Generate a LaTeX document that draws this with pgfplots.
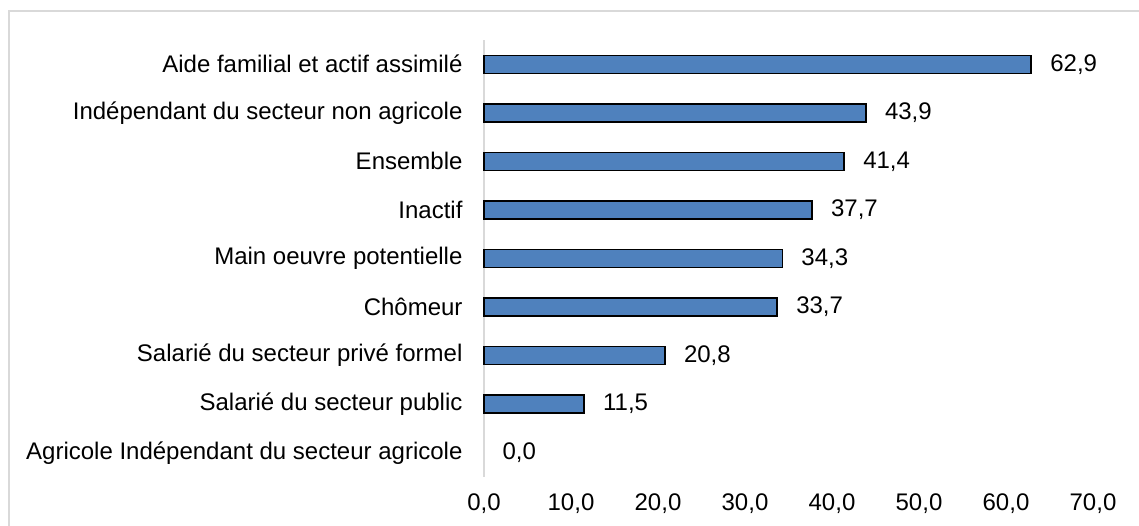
\documentclass[border=0pt]{standalone}
\usepackage{fontspec}
\setmainfont{Liberation Sans}
\usepackage{pgfplots}
\pgfplotsset{compat=1.18}
\definecolor{barblue}{HTML}{4F81BD}
\definecolor{axisgray}{HTML}{D9D9D9}
\begin{document}
\begin{tikzpicture}
\path[use as bounding box] (0,0) rectangle (1139pt,526pt);
\draw[color=axisgray, line width=1.5pt] (9pt,-5pt) |- (1145pt,515pt);
\begin{axis}[
  at={(484pt,49pt)}, anchor=south west,
  scale only axis,
  width=609pt, height=437pt,
  xmin=0, xmax=70,
  ymin=-0.5, ymax=8.5,
  xbar, bar width=18pt, bar shift=0pt,
  axis line style={draw=none},
  axis x line*=bottom,
  axis y line*=left,
  major tick length=0pt,
  xtick={0,10,...,70},
  ytick={0,1,...,8},
  yticklabels={Agricole Indépendant du secteur agricole, Salarié du secteur public, Salarié du secteur privé formel, Chômeur, Main oeuvre potentielle, Inactif, Ensemble, Indépendant du secteur non agricole, Aide familial et actif assimilé},
  /pgf/number format/assume math mode=true,
  /pgf/number format/.cd, use comma, fixed, fixed zerofill, precision=1, 1000 sep={},
  /pgfplots/.cd,
  tick label style={font=\fontsize{24}{28}\selectfont, text=black},
  xticklabel style={yshift=-13pt},
  yticklabel style={xshift=-18pt},
  nodes near coords,
  nodes near coords style={font=\fontsize{24}{28}\selectfont, anchor=west, xshift=15pt, /pgf/number format/assume math mode=true},
  clip=false,
]
\draw[color=axisgray, line width=1.5pt] (axis cs:0,-0.5) -- (axis cs:0,8.5);
\addplot[fill=barblue, draw=black, line width=1.5pt] coordinates {
  (11.5,1) (20.8,2) (33.7,3) (34.3,4) (37.7,5) (41.4,6) (43.9,7) (62.9,8)
};
\addplot[draw=none, fill=none] coordinates {(0.0,0)};
\end{axis}
\end{tikzpicture}
\end{document}
